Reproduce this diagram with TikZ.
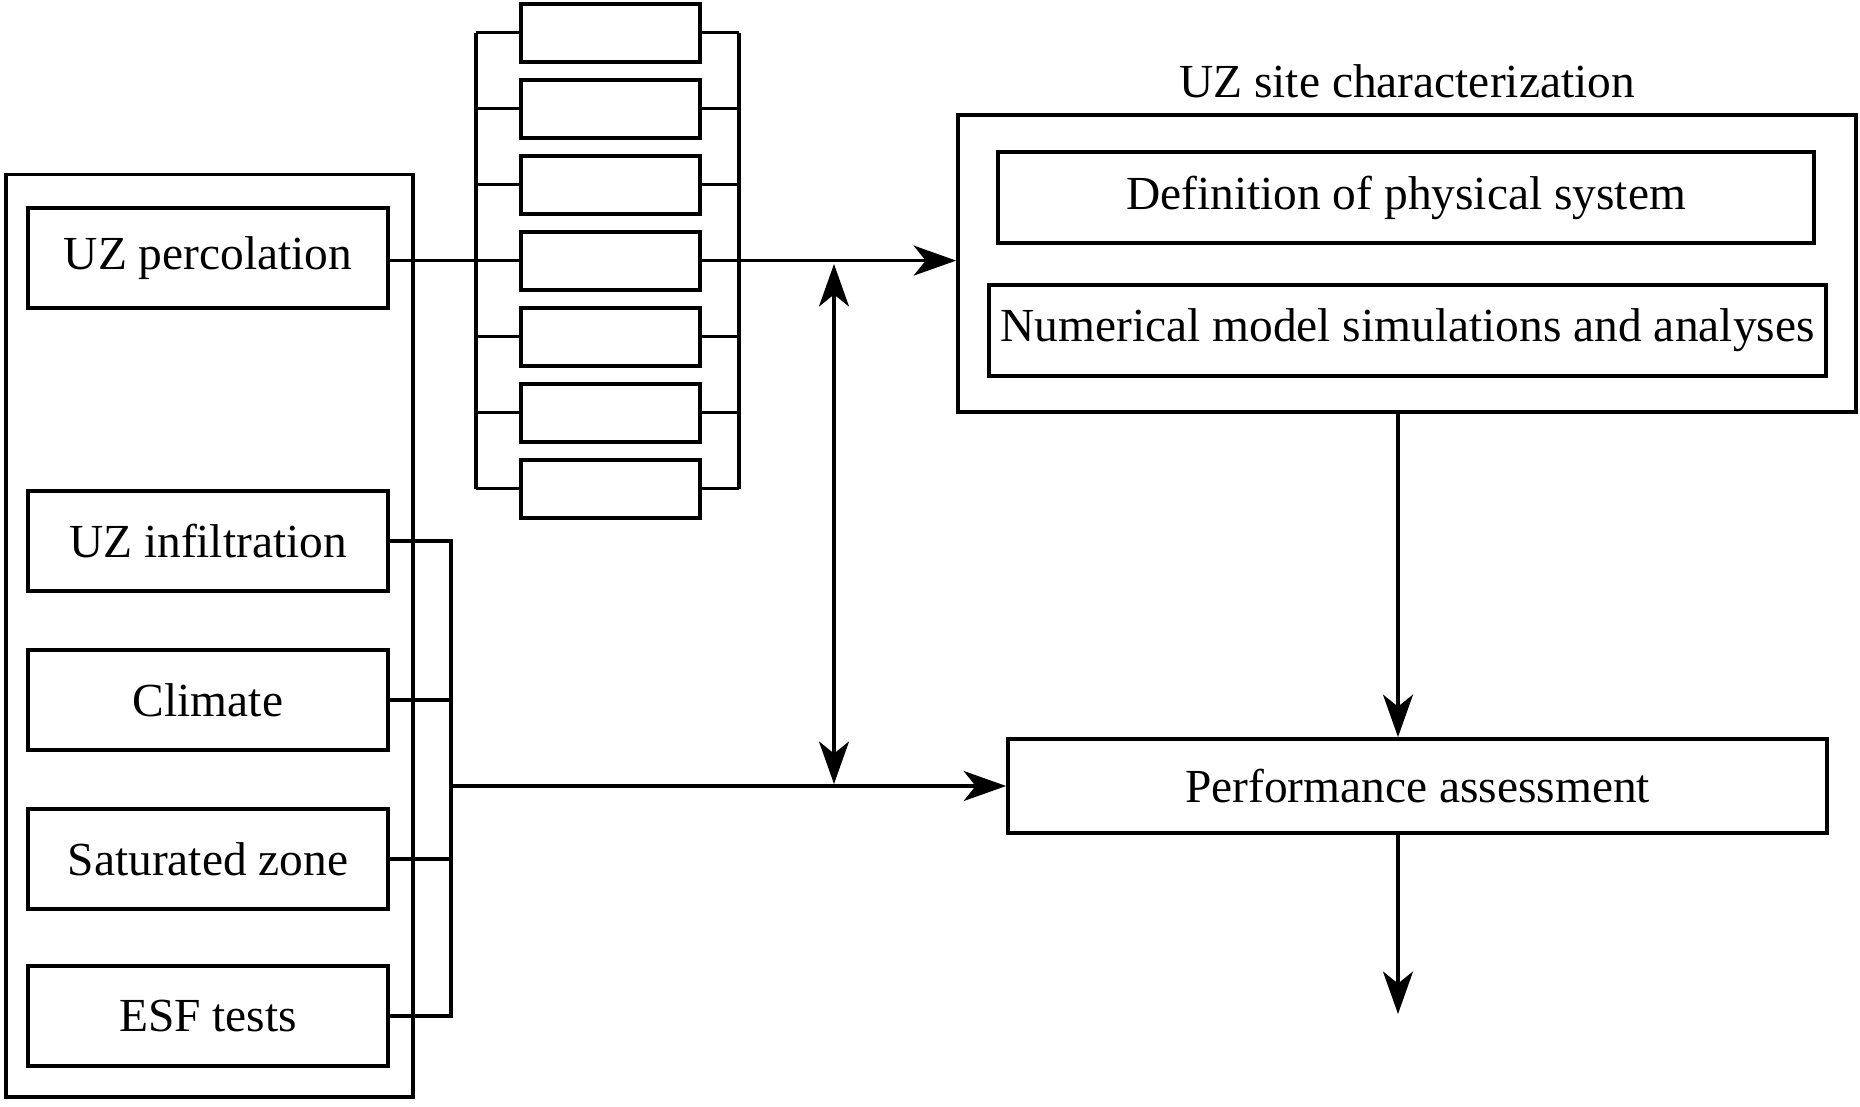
\documentclass[tikz,border=0pt]{standalone}
\usepackage{fontspec}
\setmainfont{Liberation Serif}
\usetikzlibrary{arrows.meta}
\begin{document}
\begin{tikzpicture}[x=0.02cm,y=-0.02cm,
  font=\fontsize{27}{32}\selectfont,
  box/.style={draw, line width=2.2pt, inner sep=0pt, align=center},
  inbox/.style={box, minimum width=7.2cm, minimum height=2cm},
  rung/.style={box, minimum width=3.58cm, minimum height=1.16cm},
  conn/.style={line width=1.8pt},
  tip/.style={Stealth[length=0.85cm,width=0.6cm,inset=0.24cm]},
  arr/.style={conn, -{Stealth[length=0.85cm,width=0.6cm,inset=0.24cm]}},
  darr/.style={conn, {Stealth[length=0.85cm,width=0.6cm,inset=0.24cm]}-{Stealth[length=0.85cm,width=0.6cm,inset=0.24cm]}}]
\useasboundingbox (0,0) rectangle (1860,1106);

% input group on the left
\node[draw, line width=1.8pt, minimum width=8.14cm, minimum height=18.46cm] (outer) at (209.5,635.5) {};
\node[inbox] (perc)    at (208,258)  {UZ percolation};
\node[inbox] (infil)   at (208,541)  {UZ infiltration};
\node[inbox] (climate) at (208,700)  {Climate};
\node[inbox] (satz)    at (208,859)  {Saturated zone};
\node[inbox] (esf)     at (208,1016) {ESF tests};

% ladder of parallel blocks
\coordinate (lt) at (476,32.6);
\coordinate (lb) at (476,488.6);
\coordinate (rt) at (739,32.6);
\coordinate (rb) at (739,488.6);
\foreach \i in {1,...,7} {
  \node[rung] (lad\i) at (610.5,{32.6+76*(\i-1)}) {};
  \draw[conn] (lad\i.west -| lt) -- (lad\i.west);
  \draw[conn] (lad\i.east) -- (lad\i.east -| rt);
}
\draw[conn] (lt) -- (lb);
\draw[conn] (rt) -- (rb);

% UZ site characterization
\node (title) at (1407,81) {UZ site characterization};
\node[box, minimum width=17.96cm, minimum height=5.94cm] (uzsite) at (1407,263.5) {};
\node[box, minimum width=16.32cm, minimum height=1.82cm] (def) at (1406,197.5) {Definition of physical system};
\node[box, minimum width=16.74cm, minimum height=1.82cm] (num) at (1407.5,330.5) {Numerical model simulations and analyses};

% performance assessment
\node[box, minimum width=16.38cm, minimum height=1.88cm] (perf) at (1417.5,786) {Performance assessment};

% percolation path through the ladder
\draw[conn] (perc.east |- lad4) -- (lt |- lad4);
\draw[arr] (rt |- lad4) -- (uzsite.west |- lad4);

% collecting bus of the lower inputs
\coordinate (bus) at (451,0);
\draw[conn] (infil.east) -- (infil.east -| bus) -- (esf.east -| bus) -- (esf.east);
\draw[conn] (climate.east) -- (climate.east -| bus);
\draw[conn] (satz.east) -- (satz.east -| bus);
\draw[arr] (bus |- perf.west) -- (perf.west);

% feedback between the two paths
\coordinate (dt) at (834,264);
\coordinate (db) at (834,784);
\draw[darr] (dt) -- (db);

% downward flow
\coordinate (ax) at (1398,0);
\coordinate (out) at (1398,1014);
\draw[arr] (ax |- uzsite.south) -- (ax |- perf.north);
\draw[arr] (ax |- perf.south) -- (out);
\end{tikzpicture}
\end{document}
